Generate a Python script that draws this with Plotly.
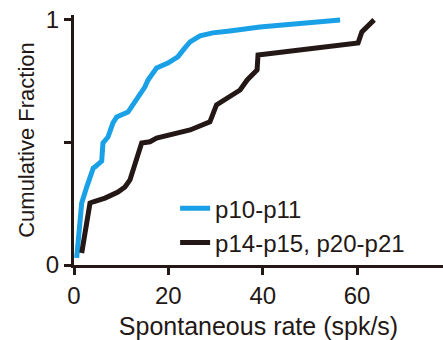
import plotly.graph_objects as go

# p10-p11 (blue)
young_rate = [0.57, 1.63, 2.69, 4.09, 4.45, 5.87, 6.14, 7.2, 8.26, 9.05, 11.44, 12.5, 12.92,
              14.34, 15.04, 15.68, 17.5, 19.9, 22.0, 23.5, 24.6, 26.7, 29.4, 33.0, 36.9, 39.4, 56.4]
young_frac = [0.029, 0.253, 0.318, 0.396, 0.40, 0.424, 0.498, 0.522, 0.58, 0.604, 0.624, 0.653, 0.665,
              0.702, 0.727, 0.755, 0.804, 0.824, 0.849, 0.886, 0.910, 0.935, 0.947, 0.955, 0.963, 0.971, 1.0]

# p14-p15, p20-p21 (black)
old_rate = [1.63, 3.39, 4.09, 6.57, 9.32, 10.8, 11.86, 12.9, 14.34, 16.1, 17.5, 24.6, 28.8,
            30.2, 35.2, 36.7, 38.8, 39.0, 60.2, 61.0, 63.6]
old_frac = [0.049, 0.253, 0.258, 0.273, 0.298, 0.318, 0.347, 0.408, 0.498, 0.503, 0.518, 0.551, 0.584,
            0.653, 0.714, 0.755, 0.796, 0.857, 0.906, 0.951, 1.0]

x_ticks = [0, 20, 40, 60]
y_ticks = [0, 0.5, 1]
y_ticktext = ["0", "", "1"]

FONT = "Liberation Sans, Arial, sans-serif"

fig = go.Figure()
fig.add_trace(go.Scatter(x=young_rate, y=young_frac, mode="lines", name="p10-p11",
                         line=dict(color="#1aa0e6", width=5)))
fig.add_trace(go.Scatter(x=old_rate, y=old_frac, mode="lines", name="p14-p15, p20-p21",
                         line=dict(color="#231815", width=5)))

fig.update_layout(
    width=443, height=340,
    margin=dict(l=74, r=0, t=15, b=75),
    plot_bgcolor="white", paper_bgcolor="white",
    font=dict(family=FONT, size=22, color="#231815"),
    showlegend=True,
    legend=dict(x=0.274, y=0.315, xanchor="left", yanchor="top",
                bgcolor="rgba(0,0,0,0)", font=dict(size=24), tracegroupgap=0,
                itemwidth=30),
    xaxis=dict(range=[0, 78.2], tickvals=x_ticks, showgrid=False, zeroline=False,
               showline=True, linecolor="#231815", linewidth=3,
               ticks="outside", ticklen=7, tickwidth=3, tickcolor="#231815",
               tickfont=dict(size=24), title=dict(text="Spontaneous rate (spk/s)",
               font=dict(size=25), standoff=12)),
    yaxis=dict(range=[0, 1.02], tickvals=y_ticks, ticktext=y_ticktext, showgrid=False,
               zeroline=False, showline=True, linecolor="#231815", linewidth=3,
               ticks="outside", ticklen=7, tickwidth=3, tickcolor="#231815",
               tickfont=dict(size=24), title=dict(text="Cumulative Fraction",
               font=dict(size=22), standoff=6)),
)

fig.write_html("out.html")
